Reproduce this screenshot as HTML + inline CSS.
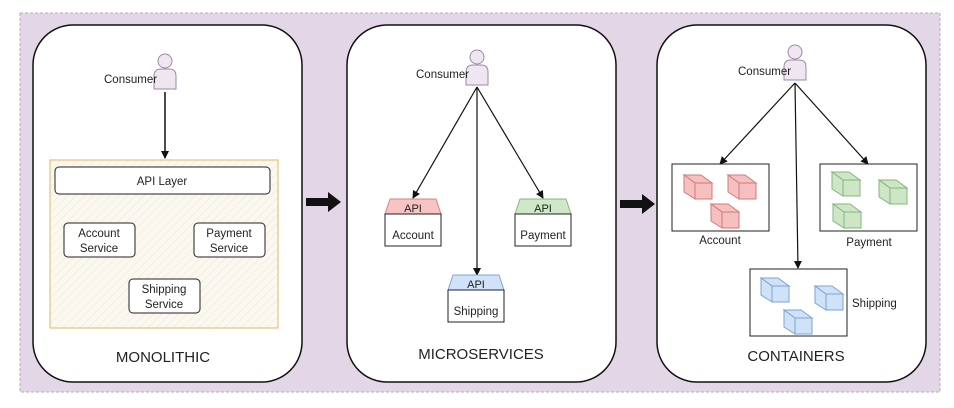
<!DOCTYPE html>
<html><head><meta charset="utf-8"><style>
html,body{margin:0;padding:0;background:#fff}
svg{display:block}
text{font-family:"Liberation Sans",sans-serif;fill:#222}
</style></head><body>
<svg width="954" height="408" viewBox="0 0 954 408" xmlns="http://www.w3.org/2000/svg">
<defs>
<marker id="ah" markerWidth="8" markerHeight="8" refX="7" refY="4" orient="auto" markerUnits="userSpaceOnUse">
<path d="M0,0 L8,4 L0,8 z" fill="#111"/></marker>
<pattern id="hatch" width="6" height="6" patternUnits="userSpaceOnUse" patternTransform="rotate(45)">
<rect width="6" height="6" fill="#fbf8f0"/><line x1="0" y1="0" x2="0" y2="6" stroke="#ece6d6" stroke-width="1"/></pattern>
<g id="person"><circle cx="0" cy="-9" r="7" fill="#efe6f2" stroke="#9a8aa5" stroke-width="1"/>
<path d="M-11,19 L-11,6 Q-11,-1 -4,-1 L4,-1 Q11,-1 11,6 L11,19 Z" fill="#efe6f2" stroke="#9a8aa5" stroke-width="1"/></g>
<g id="cube"><path d="M0,0 L17,0 L28,8 L11,8 Z"/><path d="M11,8 L28,8 L28,24 L11,24 Z"/><path d="M0,0 L11,8 L11,24 L0,17 Z"/></g>
</defs>
<rect x="20" y="13" width="920" height="379" fill="#e2d6e7" stroke="#b8a9bf" stroke-dasharray="3,2"/>
<!-- panels -->
<rect x="33" y="25" width="269" height="357" rx="40" fill="#fff" stroke="#111" stroke-width="1.5"/>
<rect x="347" y="25" width="269" height="357" rx="40" fill="#fff" stroke="#111" stroke-width="1.5"/>
<rect x="657" y="25" width="269" height="357" rx="40" fill="#fff" stroke="#111" stroke-width="1.5"/>
<!-- big arrows -->
<path d="M306,198 H328 V192 L341,202 L328,212 V206 H306 Z" fill="#111"/>
<path d="M620,200 H642 V194 L655,204 L642,214 V208 H620 Z" fill="#111"/>

<!-- panel 1 -->
<use href="#person" x="165" y="70"/>
<text x="104" y="83" font-size="11.5">Consumer</text>
<line x1="165" y1="92" x2="165" y2="158" stroke="#111" stroke-width="1.5" marker-end="url(#ah)"/>
<rect x="50" y="160" width="228" height="168" fill="url(#hatch)" stroke="#e6c27e" stroke-width="1.2"/>
<rect x="55" y="167" width="215" height="27" rx="4" fill="#fff" stroke="#222"/>
<text x="162" y="185" font-size="11.5" text-anchor="middle">API Layer</text>
<rect x="64" y="223" width="71" height="34" rx="4" fill="#fff" stroke="#222"/>
<text x="99" y="237" font-size="11.5" text-anchor="middle">Account</text><text x="99" y="252" font-size="11.5" text-anchor="middle">Service</text>
<rect x="194" y="223" width="71" height="34" rx="4" fill="#fff" stroke="#222"/>
<text x="229" y="237" font-size="11.5" text-anchor="middle">Payment</text><text x="229" y="252" font-size="11.5" text-anchor="middle">Service</text>
<rect x="129" y="279" width="71" height="34" rx="4" fill="#fff" stroke="#222"/>
<text x="164" y="293" font-size="11.5" text-anchor="middle">Shipping</text><text x="164" y="308" font-size="11.5" text-anchor="middle">Service</text>
<text x="163" y="362" font-size="15" text-anchor="middle">MONOLITHIC</text>

<!-- panel 2 -->
<use href="#person" x="477" y="66"/>
<text x="416" y="78" font-size="11.5">Consumer</text>
<line x1="477" y1="87" x2="413" y2="198" stroke="#111" stroke-width="1.2" marker-end="url(#ah)"/>
<line x1="477" y1="87" x2="543" y2="198" stroke="#111" stroke-width="1.2" marker-end="url(#ah)"/>
<line x1="477" y1="87" x2="477" y2="275" stroke="#111" stroke-width="1.2" marker-end="url(#ah)"/>
<path d="M390,199 L436,199 L441,214 L385,214 Z" fill="#f7c4c4" stroke="#d98080"/>
<rect x="385" y="214" width="56" height="32" fill="#fff" stroke="#222"/>
<text x="413" y="212" font-size="11" text-anchor="middle">API</text><text x="413" y="239" font-size="11.5" text-anchor="middle">Account</text>
<path d="M520,199 L566,199 L571,214 L515,214 Z" fill="#cfe8c8" stroke="#86b97c"/>
<rect x="515" y="214" width="56" height="32" fill="#fff" stroke="#222"/>
<text x="543" y="212" font-size="11" text-anchor="middle">API</text><text x="543" y="239" font-size="11.5" text-anchor="middle">Payment</text>
<path d="M453,275 L499,275 L504,290 L448,290 Z" fill="#cfe2f7" stroke="#7ea6d4"/>
<rect x="448" y="290" width="56" height="32" fill="#fff" stroke="#222"/>
<text x="476" y="288" font-size="11" text-anchor="middle">API</text><text x="476" y="315" font-size="11.5" text-anchor="middle">Shipping</text>
<text x="481" y="359" font-size="15" text-anchor="middle">MICROSERVICES</text>

<!-- panel 3 -->
<use href="#person" x="795" y="61"/>
<text x="738" y="75" font-size="11.5">Consumer</text>
<line x1="795" y1="83" x2="720" y2="164" stroke="#111" stroke-width="1.2" marker-end="url(#ah)"/>
<line x1="795" y1="83" x2="868" y2="164" stroke="#111" stroke-width="1.2" marker-end="url(#ah)"/>
<line x1="795" y1="83" x2="798" y2="268" stroke="#111" stroke-width="1.2" marker-end="url(#ah)"/>
<rect x="672" y="164" width="97" height="67" fill="#fff" stroke="#222"/>
<g fill="#f7c0c0" stroke="#d27a7a" stroke-width="1">
<use href="#cube" x="684" y="175"/><use href="#cube" x="728" y="175"/><use href="#cube" x="711" y="204"/></g>
<text x="720" y="244" font-size="11.5" text-anchor="middle">Account</text>
<rect x="820" y="164" width="97" height="67" fill="#fff" stroke="#222"/>
<g fill="#cde6c6" stroke="#88b47e" stroke-width="1">
<use href="#cube" x="832" y="172"/><use href="#cube" x="879" y="180"/><use href="#cube" x="833" y="204"/></g>
<text x="869" y="246" font-size="11.5" text-anchor="middle">Payment</text>
<rect x="750" y="269" width="97" height="67" fill="#fff" stroke="#222"/>
<g fill="#cfe2f8" stroke="#7ea3cf" stroke-width="1">
<use href="#cube" x="761" y="278"/><use href="#cube" x="815" y="286"/><use href="#cube" x="784" y="310"/></g>
<text x="852" y="307" font-size="11.5">Shipping</text>
<text x="796" y="361" font-size="15" text-anchor="middle">CONTAINERS</text>
</svg>
</body></html>
